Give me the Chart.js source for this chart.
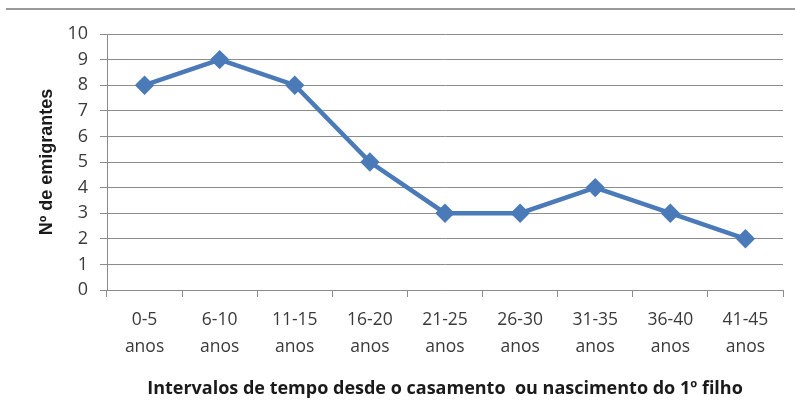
<!DOCTYPE html>
<html>
<head>
<meta charset="utf-8">
<script src="https://cdn.jsdelivr.net/npm/chart.js@4/dist/chart.umd.min.js"></script>
<style>
  html, body { margin: 0; padding: 0; background: #fff; }
  #wrap { position: relative; width: 795px; height: 410px; }
  #topline { position: absolute; left: 6px; right: 0; top: 8px; border-top: 2px solid #9a9a9a; }
</style>
</head>
<body>
<div id="wrap">
  <div id="topline"></div>
  <canvas id="grafico-emigrantes" width="795" height="410"></canvas>
</div>
<script>
// categorias (intervalos) e valores
const intervalos = [['0-5', 'anos'], ['6-10', 'anos'], ['11-15', 'anos'], ['16-20', 'anos'], ['21-25', 'anos'],
  ['26-30', 'anos'], ['31-35', 'anos'], ['36-40', 'anos'], ['41-45', 'anos']];
const emigrantes = [8, 9, 8, 5, 3, 3, 4, 3, 2];
const tituloX = 'Intervalos de tempo desde o casamento  ou nascimento do 1º filho';
const tituloY = 'Nº de emigrantes';

const fonte = "'Open Sans', 'DejaVu Sans', sans-serif";
const cinza = '#8c8c8c';

const ctx = document.getElementById('grafico-emigrantes');
new Chart(ctx, {
  type: 'line',
  data: {
    labels: intervalos,
    datasets: [{
      label: tituloY,
      data: emigrantes,
      borderColor: '#4a7ab7',
      backgroundColor: '#4a7ab7',
      borderWidth: 4.5,
      pointStyle: 'rectRot',
      pointRadius: 6.5,
      pointHoverRadius: 6.5,
      tension: 0,
      fill: false
    }]
  },
  options: {
    responsive: false,
    animation: false,
    layout: { padding: { left: 0, right: 12, top: 34, bottom: 0 } },
    plugins: {
      legend: { display: false },
      tooltip: { enabled: false }
    },
    scales: {
      x: {
        offset: true,
        afterFit: function (axis) { axis.height = 120; },
        grid: { drawOnChartArea: false, drawTicks: true, tickLength: 7, color: cinza, offset: true },
        border: { display: true, color: cinza, width: 1 },
        ticks: {
          color: '#3a3a3a',
          font: { family: fonte, size: 17.5, lineHeight: '27px' },
          padding: 10,
          maxRotation: 0,
          autoSkip: false
        },
        title: {
          display: true,
          text: tituloX,
          color: '#1a1a1a',
          font: { family: fonte, size: 18, weight: 'bold' },
          padding: { top: 0, bottom: 10 }
        }
      },
      y: {
        min: 0,
        max: 10,
        afterFit: function (axis) { axis.width = 107; },
        grid: { color: cinza, lineWidth: 1, tickLength: 7, drawTicks: true },
        border: { display: true, color: cinza, width: 1 },
        ticks: {
          stepSize: 1,
          color: '#3a3a3a',
          font: { family: fonte, size: 18 },
          padding: 12
        },
        title: {
          display: true,
          text: tituloY,
          color: '#1a1a1a',
          font: { family: "'Liberation Sans', Arial, sans-serif", size: 18, weight: 'bold' },
          padding: { top: 36, bottom: 0 }
        }
      }
    }
  }
});
</script>
</body>
</html>
